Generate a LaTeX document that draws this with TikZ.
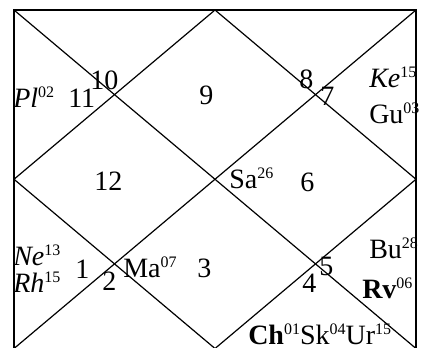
\documentclass[tikz,border=0pt]{standalone}
\usepackage{fontspec}
\setmainfont{Liberation Serif}
\newcommand{\grah}[2]{#1\raisebox{7.5pt}{\normalfont\fontsize{12}{13}\selectfont #2}}
\tikzset{
  bhava/.style={anchor=base west,inner sep=0pt,font=\fontsize{21}{23}\selectfont},
  rekha/.style={line width=0.9}
}
\begin{document}
\begin{tikzpicture}[x=0.75pt,y=0.75pt,yscale=-1,xscale=1]
\useasboundingbox (0,0) rectangle (425,347);

%Shape: Rectangle
\draw [line width=1.4]  (14,10) rectangle (416,348.5) ;
%Straight Lines
\draw [rekha]   (14,10) -- (416,348.5) ;
%Straight Lines
\draw [rekha]   (416,10) -- (14,348.5) ;
%Shape: Diamond
\draw [rekha]   (215,10) -- (416,179.25) -- (215,348.5) -- (14,179.25) -- cycle ;

% Text Node
\node [bhava] (pl) at (13,107) {\grah{\textit{Pl}}{02}};
% Text Node
\node [bhava] (h11) at (68,107) {11};
% Text Node
\node [bhava] (h10) at (90,89) {10};
% Text Node
\node [bhava] (h9) at (199,104) {9};
% Text Node
\node [bhava] (h8) at (299,88) {8};
% Text Node
\node [bhava] (h7) at (320,105) {7};
% Text Node
\node [bhava] (ke) at (369,87) {\grah{\textit{Ke}}{15}};
% Text Node
\node [bhava] (gu) at (369,123) {\grah{Gu}{03}};
% Text Node
\node [bhava] (h12) at (94,190) {12};
% Text Node
\node [bhava] (sa) at (229,188) {\grah{Sa}{26}};
% Text Node
\node [bhava] (h6) at (300,191) {6};
% Text Node
\node [bhava] (ne) at (13,265) {\grah{\textit{Ne}}{13}};
% Text Node
\node [bhava] (rh) at (13,292) {\grah{\textit{Rh}}{15}};
% Text Node
\node [bhava] (h1) at (75,278) {1};
% Text Node
\node [bhava] (h2) at (102,290) {2};
% Text Node
\node [bhava] (ma) at (123,277) {\grah{Ma}{07}};
% Text Node
\node [bhava] (h3) at (197,277) {3};
% Text Node
\node [bhava] (h4) at (302,292) {4};
% Text Node
\node [bhava] (h5) at (319,275) {5};
% Text Node
\node [bhava] (bu) at (369,258) {\grah{Bu}{28}};
% Text Node
\node [bhava] (rv) at (362,298) {\grah{\textbf{Rv}}{06}};
% Text Node
\node [bhava] (ch) at (248,344) {\grah{\textbf{Ch}}{01}\grah{Sk}{04}\grah{Ur}{15}};

\end{tikzpicture}
\end{document}
